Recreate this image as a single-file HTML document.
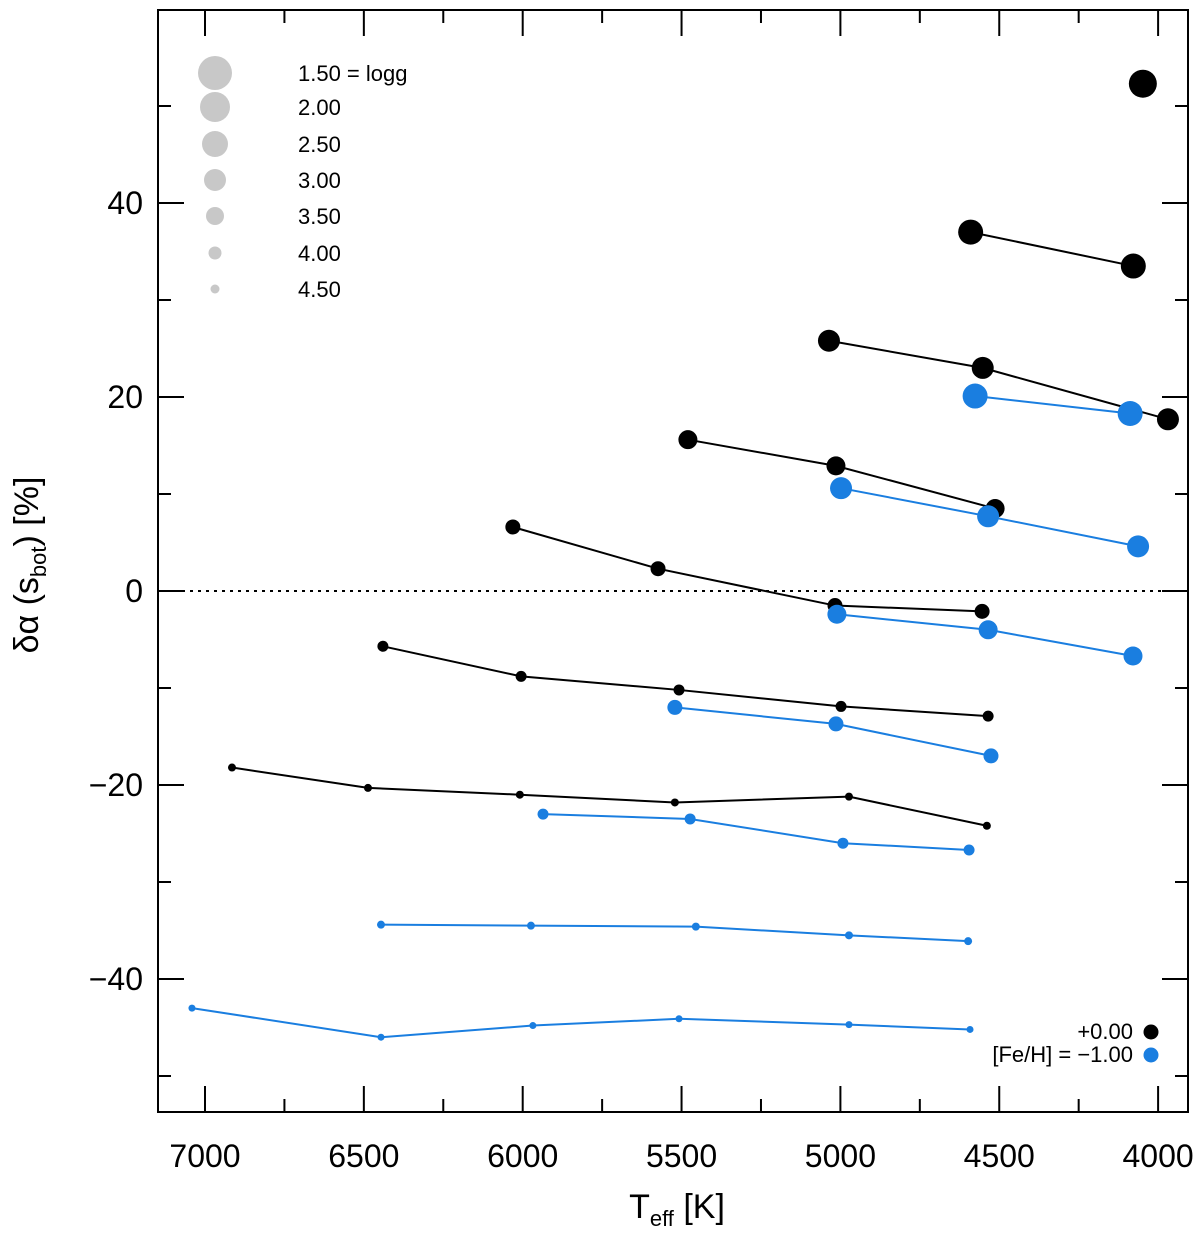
<!DOCTYPE html>
<html><head><meta charset="utf-8"><style>
body{margin:0;background:#fff}
svg text{font-family:"Liberation Sans",sans-serif;fill:#000}
</style></head><body>
<svg id="chart" width="1200" height="1231" xmlns="http://www.w3.org/2000/svg">
<g id="plot"></g>
</svg>
<script>
const xTicks=[7000,6500,6000,5500,5000,4500,4000];
const yTicks=[-40,-20,0,20,40];
const blackLogg=[1.5,2.0,2.5,3.0,3.5,4.0,4.5];
const blackT=[[4048],[4590,4078],[5036,4552,3969],[5480,5014,4513],[6031,5574,5017,4554],[6440,6005,5508,4998,4535],[6915,6487,6009,5521,4973,4539]];
const blackV=[[52.3],[37,33.5],[25.8,23,17.7],[15.6,12.9,8.5],[6.6,2.3,-1.5,-2.1],[-5.7,-8.8,-10.2,-11.9,-12.9],[-18.2,-20.3,-21,-21.8,-21.2,-24.2]];
const blueLogg=[2.0,2.5,3.0,3.5,4.0,4.5,5.0];
const blueT=[[4576,4088],[4998,4535,4063],[5011,4535,4079],[5521,5014,4526],[5936,5473,4992,4595],[6446,5974,5455,4973,4598],[7041,6446,5968,5508,4973,4592]];
const blueV=[[20.1,18.3],[10.6,7.7,4.6],[-2.4,-4.0,-6.7],[-12,-13.7,-17],[-23,-23.5,-26,-26.7],[-34.4,-34.5,-34.6,-35.5,-36.1],[-43,-46,-44.8,-44.1,-44.7,-45.2]];
const legendLogg=[1.5,2.0,2.5,3.0,3.5,4.0,4.5];
const legendLabels=["1.50 = logg","2.00","2.50","3.00","3.50","4.00","4.50"];

const L=158,R=1188,T=10,B=1112;
const x=t=>205+(7000-t)*0.3177;
const y=v=>591-v*9.7;
const rad=g=>({1.5:14,2:12.5,2.5:11,3:9.5,3.5:7.5,4:5.5,4.5:4,5:3.5})[g];
const NS="http://www.w3.org/2000/svg";
const g=document.getElementById('plot');
function mk(tag,a,parent){const e=document.createElementNS(NS,tag);for(const k in a)e.setAttribute(k,a[k]);(parent||g).appendChild(e);return e;}

let e=mk('rect',{x:L,y:T,width:R-L,height:B-T,fill:'none',stroke:'#000','stroke-width':2});


for(let t=7250;t>=3900;t-=250){ if(t>7148)continue;
  const major=(t%500===0), len=major?26:13, xx=x(t);
  mk('line',{x1:xx,x2:xx,y1:B,y2:B-len,stroke:'#000','stroke-width':2});
  mk('line',{x1:xx,x2:xx,y1:T,y2:T+len,stroke:'#000','stroke-width':2});
}
xTicks.forEach(t=>{const tx=mk('text',{x:x(t),y:1167,'text-anchor':'middle','font-size':32});tx.textContent=t;

});
for(let v=-50;v<=50;v+=10){const yy=y(v),len=(v%20===0)?26:13;
  mk('line',{x1:L,x2:L+len,y1:yy,y2:yy,stroke:'#000','stroke-width':2});
  mk('line',{x1:R,x2:R-len,y1:yy,y2:yy,stroke:'#000','stroke-width':2});}
yTicks.forEach(v=>{const tx=mk('text',{x:143,y:y(v)+11,'text-anchor':'end','font-size':32});tx.textContent=v<0?'\u2212'+(-v):v;

});
e=mk('line',{x1:L,x2:R,y1:y(0),y2:y(0),stroke:'#000','stroke-width':2,'stroke-dasharray':'3,5'});



function series(Ts,Vs,Gs,col,w,name){
  Ts.forEach((ts,i)=>{
    const pts=ts.map((t,j)=>x(t)+','+y(Vs[i][j])).join(' ');
    const pl=mk('polyline',{points:pts,fill:'none',stroke:col,'stroke-width':w});
    
    
    ts.forEach((t,j)=>{const c=mk('circle',{cx:x(t),cy:y(Vs[i][j]),r:rad(Gs[i]),fill:col});
      
      });
  });
}
series(blackT,blackV,blackLogg,'#000',2,'feh-0');
series(blueT,blueV,blueLogg,'#1a7ee0',2,'feh-m1');

const lr={1.5:17,2:15,2.5:13,3:11,3.5:9,4:6.5,4.5:4.5};
const ly=[73,107,144,180,216,253,289];
legendLogg.forEach((lg,i)=>{
  const c=mk('circle',{cx:215,cy:ly[i],r:lr[lg],fill:'#c8c8c8'});
  
  
  const t=mk('text',{x:298,y:ly[i]+8,'font-size':22});t.textContent=legendLabels[i];
  
  
});
let t1=mk('text',{x:1133,y:1039,'text-anchor':'end','font-size':22});t1.textContent='+0.00';


e=mk('circle',{cx:1151,cy:1032,r:7.5,fill:'#000'});


t1=mk('text',{x:1133,y:1062,'text-anchor':'end','font-size':22});t1.textContent='[Fe/H] = \u22121.00';


e=mk('circle',{cx:1151,cy:1055,r:7.5,fill:'#1a7ee0'});



const xt=mk('text',{x:677,y:1218,'text-anchor':'middle','font-size':34});
xt.innerHTML='T<tspan font-size="22" dy="8">eff</tspan><tspan dy="-8"> [K]</tspan>';


const yt=mk('text',{x:0,y:0,'text-anchor':'middle','font-size':34,transform:'translate(38,565) rotate(-90)'});
yt.innerHTML='δα (s<tspan font-size="22" dy="8">bot</tspan><tspan dy="-8">) [%]</tspan>';


</script>
</body></html>
